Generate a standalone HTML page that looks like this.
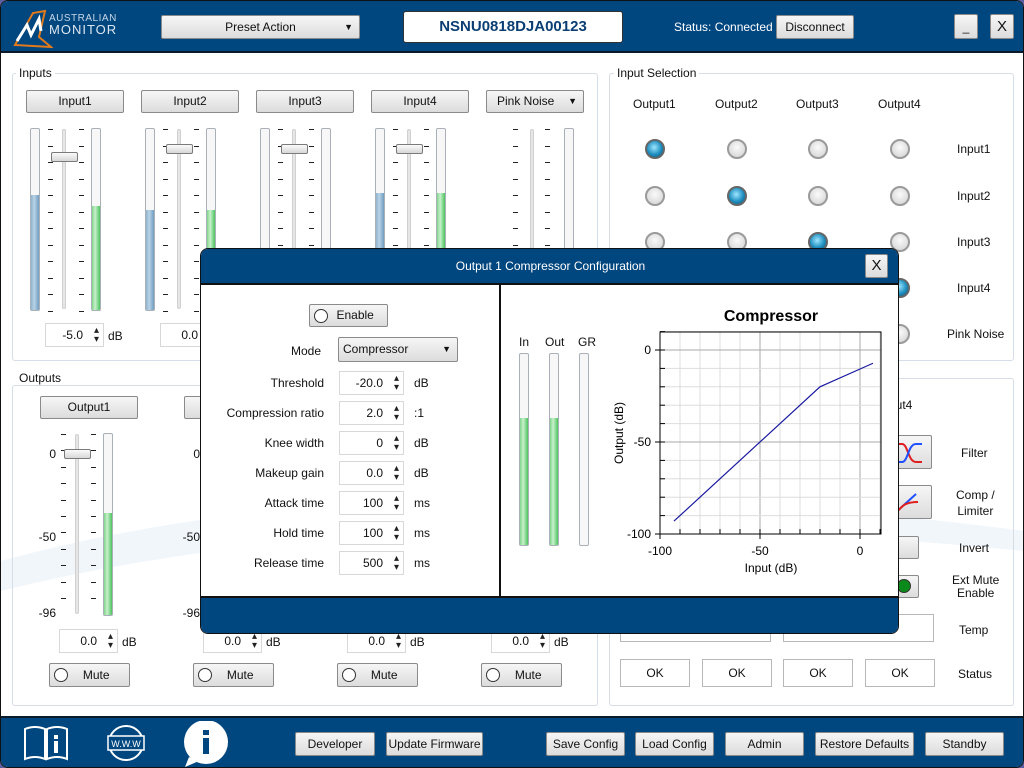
<!DOCTYPE html>
<html><head><meta charset="utf-8">
<style>
*{box-sizing:border-box;margin:0;padding:0}
html,body{width:1024px;height:768px;overflow:hidden}
body{position:relative;background:#5b5f9e;font-family:"Liberation Sans","DejaVu Sans",sans-serif;font-size:12px;color:#111}
.a{position:absolute}
#win{position:absolute;left:0;top:0;width:1024px;height:768px;background:#fff;border-radius:8px;overflow:hidden;border:1px solid #111}
.hdr{background:#00467f}
.btn{position:absolute;border:1px solid #8a8a8a;border-radius:2px;background:linear-gradient(#f6f6f6,#dcdcdc);text-align:center;font-size:12px;color:#111}
.fs{position:absolute;border:1px solid #d5dde6;border-radius:3px}
.lg{position:absolute;background:#fff;padding:0 3px;font-size:12px}
.meter{position:absolute;width:10px;border:1px solid #a9b0b8;border-radius:2px;background:#f7f7f7;overflow:hidden}
.fb{position:absolute;left:0;right:0;bottom:0;background:linear-gradient(90deg,#8fb3cf,#b9d3e6 40%,#6f9dc0)}
.fg{position:absolute;left:0;right:0;bottom:0;background:linear-gradient(90deg,#7fd58a,#c8f0cc 40%,#4cc45e)}
.track{position:absolute;width:4px;background:#e6e6e6;border:1px solid #d0d0d0;border-radius:2px}
.handle{position:absolute;width:27px;height:10px;border:1px solid #7a7a7a;border-radius:2px;background:linear-gradient(#fafafa,#d8d8d8)}
.tk{position:absolute;width:5px;height:1px;background:#222}
.spin{position:absolute;height:24px;border:1px solid #d8d8d8;background:#fff;font-size:12px;text-align:right;padding-right:20px;line-height:22px}
.spin:after{content:"\25B4\A\25BE";white-space:pre;position:absolute;right:4px;top:2px;font-size:10px;line-height:9px;color:#222}
.rad{position:absolute;width:20px;height:20px;border-radius:50%;border:2px solid #9a9a9a;background:radial-gradient(circle at 50% 40%,#fafafa,#d0d0d0)}
.rad.on{background:radial-gradient(circle at 45% 40%,#9fe6ff,#1f8fc0 55%,#0b4d6e);border-color:#666}
.rc{position:absolute;width:14px;height:14px;border:1px solid #333;border-radius:50%;background:#fff}
.box{position:absolute;border:1px solid #b8b8b8;background:#fff;text-align:center}
.lbl{position:absolute;font-size:12px}
</style></head><body>
<div id="win">
<!-- header -->
<div class="a hdr" style="left:0;top:0;width:1024px;height:52px;border-bottom:2px solid #0a1a2a"></div>
<svg class="a" style="left:12px;top:6px" width="40" height="42"><polygon points="2,38 20,6 32,4 26,30 38,40" fill="none" stroke="#e07a1c" stroke-width="2"/><polyline points="4,34 14,18 18,28 26,12 28,24" fill="none" stroke="#fff" stroke-width="3"/></svg>
<div class="a" style="left:48px;top:12px;color:#c8d6e6;font-size:10px;letter-spacing:0.5px">AUSTRALIAN</div>
<div class="a" style="left:48px;top:21px;color:#dde6f0;font-size:13px;letter-spacing:1px">MONITOR</div>
<div class="btn" style="left:160px;top:14px;width:199px;height:24px;line-height:22px">Preset Action<span style="position:absolute;right:6px;font-size:9px">▼</span></div>
<div class="a" style="left:402px;top:10px;width:220px;height:32px;background:#fff;border-radius:3px;border:1px solid #333;text-align:center;line-height:30px;font-weight:bold;font-size:15px;color:#0b3f73">NSNU0818DJA00123</div>
<div class="a" style="left:673px;top:19px;color:#fff;font-size:12px">Status: Connected</div>
<div class="btn" style="left:775px;top:14px;width:78px;height:24px;line-height:22px">Disconnect</div>
<div class="btn" style="left:953px;top:13px;width:24px;height:25px;line-height:24px">_</div>
<div class="btn" style="left:989px;top:13px;width:24px;height:25px;line-height:23px;font-size:15px">X</div>
<!-- background swoosh -->
<svg class="a" style="left:0;top:470px" width="1024" height="245"><path d="M0,90 Q400,-20 1024,60 L1024,80 Q400,20 0,120Z" fill="#f1f6fb"/></svg>
<!-- Inputs -->
<div class="fs" style="left:11px;top:72px;width:586px;height:288px"></div>
<div class="lg" style="left:15px;top:65px">Inputs</div>
<div class="btn" style="left:25px;top:89px;width:98px;height:23px;line-height:21px">Input1</div>
<div class="btn" style="left:140px;top:89px;width:98px;height:23px;line-height:21px">Input2</div>
<div class="btn" style="left:255px;top:89px;width:98px;height:23px;line-height:21px">Input3</div>
<div class="btn" style="left:370px;top:89px;width:98px;height:23px;line-height:21px">Input4</div>
<div class="btn" style="left:485px;top:89px;width:98px;height:23px;line-height:21px;text-align:left;padding-left:10px">Pink Noise<span style="position:absolute;right:6px;font-size:9px">▼</span></div>
<div id="inp"></div>
<div class="spin" style="left:44px;top:322px;width:59px">-5.0</div><div class="lbl" style="left:107px;top:328px">dB</div>
<div class="spin" style="left:159px;top:322px;width:59px">0.0</div>
<!-- Outputs -->
<div class="fs" style="left:11px;top:384px;width:586px;height:321px"></div>
<div class="lg" style="left:15px;top:370px">Outputs</div>
<div id="outp"></div>
<!-- Input selection -->
<div class="fs" style="left:608px;top:72px;width:405px;height:288px"></div>
<div class="lg" style="left:613px;top:65px">Input Selection</div>
<div id="sel"></div>
<div class="fs" style="left:608px;top:377px;width:405px;height:328px"></div>
<div class="lbl" style="left:888px;top:397px">put4</div>
<div class="btn" style="left:880px;top:434px;width:51px;height:34px"></div>
<svg class="a" style="left:895px;top:437px" width="30" height="28"><path d="M0,6 H6 C12,6 12,24 20,24 H26" stroke="#e02020" stroke-width="2" fill="none"/><path d="M0,24 H6 C12,24 12,6 20,6 H26" stroke="#2050ff" stroke-width="2" fill="none"/></svg>
<div class="lbl" style="left:960px;top:445px">Filter</div>
<div class="btn" style="left:880px;top:484px;width:51px;height:34px"></div>
<svg class="a" style="left:893px;top:487px" width="30" height="28"><path d="M0,26 L22,6" stroke="#2050ff" stroke-width="2" fill="none"/><path d="M2,26 C8,16 14,14 24,14" stroke="#e02020" stroke-width="2" fill="none"/></svg>
<div class="lbl" style="left:955px;top:486px;text-align:center;line-height:16px">Comp /<br>Limiter</div>
<div class="btn" style="left:880px;top:535px;width:38px;height:23px"></div>
<div class="lbl" style="left:958px;top:540px">Invert</div>
<div class="btn" style="left:880px;top:574px;width:38px;height:23px"></div>
<div class="a" style="left:896px;top:578px;width:14px;height:14px;border-radius:50%;background:#0a8a1a;border:1px solid #333"></div>
<div class="lbl" style="left:951px;top:573px;text-align:center;line-height:13px">Ext Mute<br>Enable</div>
<div class="box" style="left:619px;top:613px;width:151px;height:28px"></div>
<div class="box" style="left:782px;top:613px;width:151px;height:28px"></div>
<div class="lbl" style="left:958px;top:622px">Temp</div>
<div class="box" style="left:619px;top:658px;width:70px;height:28px;line-height:26px">OK</div>
<div class="box" style="left:701px;top:658px;width:70px;height:28px;line-height:26px">OK</div>
<div class="box" style="left:782px;top:658px;width:70px;height:28px;line-height:26px">OK</div>
<div class="box" style="left:864px;top:658px;width:70px;height:28px;line-height:26px">OK</div>
<div class="lbl" style="left:957px;top:666px">Status</div>
<!-- bottom bar -->
<div class="a hdr" style="left:0;top:715px;width:1024px;height:53px;border-top:2px solid #0a1a2a"></div>
<svg class="a" style="left:22px;top:722px" width="48" height="40"><path d="M2,6 Q12,2 22,6 V36 Q12,32 2,36Z M24,6 Q34,2 44,6 V36 Q34,32 24,36Z" fill="none" stroke="#fff" stroke-width="2"/><rect x="31" y="18" width="4" height="12" fill="#fff"/><rect x="31" y="12" width="4" height="4" fill="#fff"/></svg>
<svg class="a" style="left:104px;top:723px" width="42" height="38"><circle cx="21" cy="19" r="17" fill="none" stroke="#fff" stroke-width="2"/><rect x="3" y="12" width="36" height="14" fill="#00467f" stroke="#fff" stroke-width="1.5"/><text x="21" y="23" fill="#fff" font-size="9" text-anchor="middle" font-family="Liberation Sans">W.W.W</text></svg>
<svg class="a" style="left:180px;top:720px" width="50" height="46"><circle cx="25" cy="21" r="22" fill="#fff"/><path d="M8,36 L4,46 L18,40Z" fill="#fff"/><rect x="22" y="17" width="6" height="16" fill="#00467f"/><rect x="22" y="9" width="6" height="5" fill="#00467f"/></svg>
<div class="btn" style="left:294px;top:731px;width:80px;height:24px;line-height:22px">Developer</div>
<div class="btn" style="left:385px;top:731px;width:97px;height:24px;line-height:22px">Update Firmware</div>
<div class="btn" style="left:545px;top:731px;width:79px;height:24px;line-height:22px">Save Config</div>
<div class="btn" style="left:634px;top:731px;width:79px;height:24px;line-height:22px">Load Config</div>
<div class="btn" style="left:724px;top:731px;width:79px;height:24px;line-height:22px">Admin</div>
<div class="btn" style="left:814px;top:731px;width:99px;height:24px;line-height:22px">Restore Defaults</div>
<div class="btn" style="left:924px;top:731px;width:79px;height:24px;line-height:22px">Standby</div>

<!-- Dialog -->
<div class="a" style="left:199px;top:247px;width:699px;height:386px;border:1px solid #111;border-radius:8px;overflow:hidden;background:#fff">
 <div class="a hdr" style="left:0;top:0;width:699px;height:36px;border-bottom:2px solid #111"></div>
 <div class="a" style="left:0;top:10px;width:699px;text-align:center;color:#fff;font-size:12px">Output 1 Compressor Configuration</div>
 <div class="btn" style="left:664px;top:5px;width:23px;height:24px;line-height:22px;font-size:15px">X</div>
 <div class="a" style="left:298px;top:36px;width:2px;height:312px;background:#111"></div>
 <div class="a hdr" style="left:0;top:347px;width:699px;height:39px;border-top:2px solid #111"></div>
</div>
<div id="dlg"></div>
</div>
<script>
function el(p,h){document.getElementById(p).insertAdjacentHTML('beforeend',h)}
var bf=[194,209,0,192],gf=[205,209,0,192],hy=[151,143,143,143];
for(var i=0;i<5;i++){var x=25+115*i,s='';
 if(i<4){s+='<div class="meter" style="left:'+(x+4)+'px;top:127px;height:183px">'+(bf[i]?'<div class="fb" style="height:'+(309-bf[i])+'px"></div>':'')+'</div>';
 s+='<div class="meter" style="left:'+(x+65)+'px;top:127px;height:183px">'+(gf[i]?'<div class="fg" style="height:'+(309-gf[i])+'px"></div>':'')+'</div>';
 s+='<div class="track" style="left:'+(x+36)+'px;top:128px;height:180px"></div>';
 for(var k=0;k<12;k++){var y=128+k*16.5;s+='<div class="tk" style="left:'+(x+22)+'px;top:'+y+'px"></div><div class="tk" style="left:'+(x+53)+'px;top:'+y+'px"></div>'}
 s+='<div class="handle" style="left:'+(x+25)+'px;top:'+hy[i]+'px"></div>';}
 else{s+='<div class="meter" style="left:563px;top:127px;height:183px"></div><div class="track" style="left:529px;top:128px;height:180px"></div>';
 for(var k=0;k<12;k++){var y=128+k*16.5;s+='<div class="tk" style="left:512px;top:'+y+'px"></div><div class="tk" style="left:544px;top:'+y+'px"></div>'}}
 el('inp',s)}
for(var i=0;i<4;i++){var x=144*i,s='';
 s+='<div class="btn" style="left:'+(39+x)+'px;top:395px;width:98px;height:23px;line-height:21px">Output'+(i+1)+'</div>';
 s+='<div class="track" style="left:'+(74+x)+'px;top:433px;height:180px"></div>';
 s+='<div class="meter" style="left:'+(102+x)+'px;top:432px;height:183px"><div class="fg" style="height:102px"></div></div>';
 for(var k=0;k<11;k++){var y=433+k*16.4;s+='<div class="tk" style="left:'+(60+x)+'px;top:'+y+'px"></div><div class="tk" style="left:'+(90+x)+'px;top:'+y+'px"></div>'}
 s+='<div class="handle" style="left:'+(63+x)+'px;top:448px"></div>';
 s+='<div class="lbl" style="left:'+(x+30)+'px;width:25px;text-align:right;top:446px">0</div><div class="lbl" style="left:'+(x+30)+'px;width:25px;text-align:right;top:529px">-50</div><div class="lbl" style="left:'+(x+30)+'px;width:25px;text-align:right;top:605px">-96</div>';
 s+='<div class="spin" style="left:'+(58+x)+'px;top:628px;width:59px">0.0</div><div class="lbl" style="left:'+(121+x)+'px;top:634px">dB</div>';
 s+='<div class="btn" style="left:'+(48+x)+'px;top:662px;width:81px;height:24px;line-height:22px"><span class="rc" style="left:4px;top:4px"></span>&nbsp;&nbsp;&nbsp;&nbsp;Mute</div>';
 el('outp',s)}
var cx=[654,736,817,899],rows=[148,195,241,287,333],names=['Input1','Input2','Input3','Input4','Pink Noise'];
for(var c=0;c<4;c++)el('sel','<div class="lbl" style="left:'+(cx[c]-22)+'px;top:96px">Output'+(c+1)+'</div>');
for(var r=0;r<5;r++){el('sel','<div class="lbl" style="left:'+(r==4?946:956)+'px;top:'+(rows[r]-7)+'px">'+names[r]+'</div>');
 for(var c=0;c<4;c++)el('sel','<div class="rad'+(r==c?' on':'')+'" style="left:'+(cx[c]-10)+'px;top:'+(rows[r]-10)+'px"></div>')}
var d='';
d+='<div class="btn" style="left:308px;top:303px;width:79px;height:23px;line-height:21px"><span class="rc" style="left:4px;top:4px"></span>&nbsp;&nbsp;&nbsp;&nbsp;Enable</div>';
d+='<div class="lbl" style="left:290px;top:343px">Mode</div>';
d+='<div class="btn" style="left:337px;top:336px;width:120px;height:25px;line-height:22px;text-align:left;padding-left:4px">Compressor<span style="position:absolute;right:6px;font-size:9px">▼</span></div>';
var L=[['Threshold','-20.0','dB'],['Compression ratio','2.0',':1'],['Knee width','0','dB'],['Makeup gain','0.0','dB'],['Attack time','100','ms'],['Hold time','100','ms'],['Release time','500','ms']];
for(var i=0;i<7;i++){var y=382+30*i;d+='<div class="lbl" style="left:200px;width:123px;text-align:right;top:'+(y-7)+'px">'+L[i][0]+'</div><div class="spin" style="left:338px;top:'+(y-12)+'px;width:65px">'+L[i][1]+'</div><div class="lbl" style="left:413px;top:'+(y-7)+'px">'+L[i][2]+'</div>'}
d+='<div class="lbl" style="left:518px;top:334px">In</div><div class="lbl" style="left:544px;top:334px">Out</div><div class="lbl" style="left:577px;top:334px">GR</div>';
d+='<div class="meter" style="left:518px;top:352px;height:193px"><div class="fg" style="height:127px"></div></div>';
d+='<div class="meter" style="left:548px;top:352px;height:193px"><div class="fg" style="height:127px"></div></div>';
d+='<div class="meter" style="left:578px;top:352px;height:193px"></div>';
var g='<svg class="a" style="left:600px;top:295px" width="297" height="290" font-family="Liberation Sans" font-size="12">';
var X=function(v){return 59+(v+100)*2},Y=function(v){return 54-v*1.84};
g+='<text x="170" y="25" text-anchor="middle" font-weight="bold" font-size="16">Compressor</text>';
for(var v=-90;v<=10;v+=10){g+='<line x1="'+X(v)+'" y1="36" x2="'+X(v)+'" y2="238" stroke="'+(v%50==0?'#aaa':'#ddd')+'"/>'}
for(var v=-100;v<=10;v+=10){g+='<line x1="59" y1="'+Y(v)+'" x2="280" y2="'+Y(v)+'" stroke="'+(v%50==0?'#aaa':'#ddd')+'"/>'}
g+='<rect x="59" y="36" width="221" height="202" fill="none" stroke="#000"/>';
for(var v=-100;v<=10;v+=10){g+='<line x1="'+X(v)+'" y1="233" x2="'+X(v)+'" y2="238" stroke="#000"/>'}
for(var v=-100;v<=10;v+=10){g+='<line x1="59" y1="'+Y(v)+'" x2="64" y2="'+Y(v)+'" stroke="#000"/>'}
[-100,-50,0].forEach(function(v){g+='<line x1="'+X(v)+'" y1="238" x2="'+X(v)+'" y2="243" stroke="#000"/><line x1="54" y1="'+Y(v)+'" x2="59" y2="'+Y(v)+'" stroke="#000"/><text x="'+X(v)+'" y="259" text-anchor="middle">'+v+'</text><text x="50" y="'+(Y(v)+4)+'" text-anchor="end">'+v+'</text>'});
g+='<text x="170" y="276" text-anchor="middle">Input (dB)</text><text transform="translate(22,137) rotate(-90)" text-anchor="middle">Output (dB)</text>';
g+='<polyline points="'+X(-93)+','+Y(-93)+' '+X(-20)+','+Y(-20)+' '+X(6.5)+','+Y(-7.2)+'" fill="none" stroke="#1a1aa0" stroke-width="1.2"/></svg>';
d+=g;el('dlg',d);
</script>
</body></html>
